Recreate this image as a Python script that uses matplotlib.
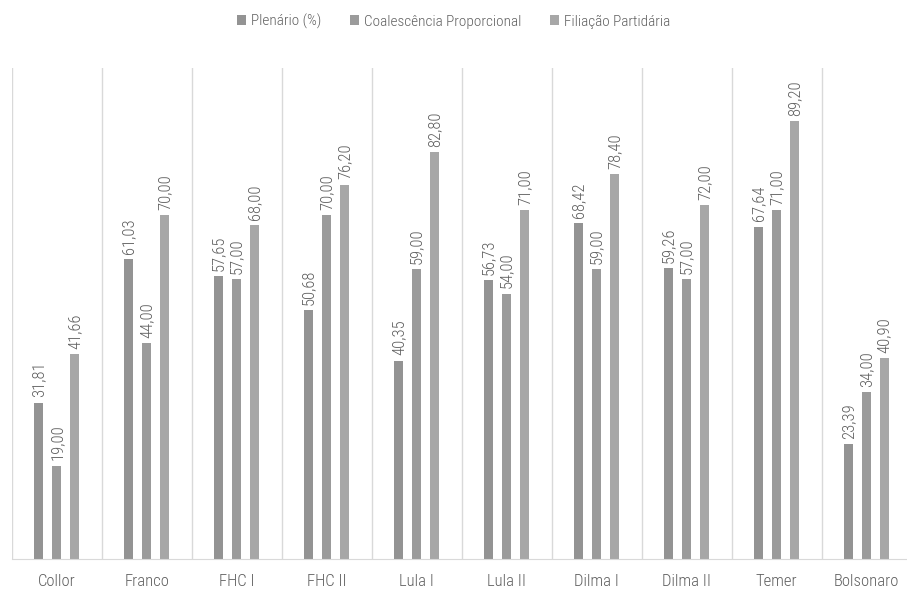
import numpy as np
import matplotlib
matplotlib.use("Agg")
import matplotlib.pyplot as plt
from matplotlib import font_manager

names = {f.name for f in font_manager.fontManager.ttflist}
narrow = [n for n in ["Liberation Sans Narrow", "Roboto Condensed", "Open Sans Condensed"] if n in names]
plt.rcParams["font.family"] = narrow + ["Liberation Sans", "DejaVu Sans"]
plt.rcParams["font.weight"] = "light"

governos = ["Collor", "Franco", "FHC I", "FHC II", "Lula I", "Lula II",
            "Dilma I", "Dilma II", "Temer", "Bolsonaro"]
plenario = [31.81, 61.03, 57.65, 50.68, 40.35, 56.73, 68.42, 59.26, 67.64, 23.39]
coalescencia = [19.00, 44.00, 57.00, 70.00, 59.00, 54.00, 59.00, 57.00, 71.00, 34.00]
filiacao = [41.66, 70.00, 68.00, 76.20, 82.80, 71.00, 78.40, 72.00, 89.20, 40.90]

series = [("Plenário (%)", plenario, "#939393"),
          ("Coalescência Proporcional", coalescencia, "#9b9b9b"),
          ("Filiação Partidária", filiacao, "#a7a7a7")]

fig = plt.figure(figsize=(9.07, 5.94), dpi=100)
ax = fig.add_axes([12 / 907, 35 / 594, 895 / 907, 491 / 594])

x = np.arange(len(governos))
width = 0.1
for i, (nome, vals, cor) in enumerate(series):
    pos = x + (i - 1) * 0.2
    ax.bar(pos, vals, width, color=cor, label=nome, zorder=2)
    for p, v in zip(pos, vals):
        ax.text(p, v + 1.1, f"{v:.2f}".replace(".", ","), rotation=90,
                ha="center", va="bottom", fontsize=12, color="#5f5f5f")

ax.set_ylim(0, 100)
ax.set_xlim(-0.5, len(governos) - 0.55)
for b in np.arange(-0.5, len(governos), 1.0):
    ax.axvline(b, color="#d9d9d9", lw=1, zorder=1)

ax.set_xticks(x)
ax.set_xticklabels(governos, fontsize=12, color="#5f5f5f")
ax.tick_params(axis="x", length=0, pad=11)
ax.set_yticks([])
for s in ["top", "right", "left"]:
    ax.spines[s].set_visible(False)
ax.spines["bottom"].set_color("#d9d9d9")

fig.legend(loc="upper center", bbox_to_anchor=(0.5, 1.0), ncol=3, frameon=False,
           fontsize=11, handlelength=0.6, handleheight=0.6, handletextpad=0.3,
           columnspacing=1.9, labelcolor="#5f5f5f")

fig.savefig("out.png", dpi=100)
